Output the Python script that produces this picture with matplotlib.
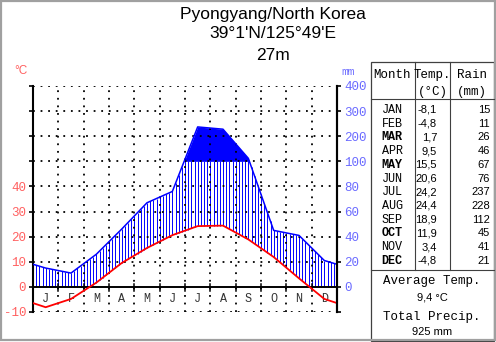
import numpy as np
import matplotlib
matplotlib.use("Agg")
import matplotlib.pyplot as plt
from matplotlib.patches import Rectangle

# Pyongyang climate normals
months = ['JAN', 'FEB', 'MAR', 'APR', 'MAY', 'JUN',
          'JUL', 'AUG', 'SEP', 'OCT', 'NOV', 'DEC']
month_letters = ['J', 'F', 'M', 'A', 'M', 'J', 'J', 'A', 'S', 'O', 'N', 'D']
temp = [-8.1, -4.8, 1.7, 9.5, 15.5, 20.6, 24.2, 24.4, 18.9, 11.9, 3.4, -4.8]
rain = [15, 11, 26, 46, 67, 76, 237, 228, 112, 45, 41, 21]
bold_rows = ['MAR', 'MAY', 'OCT', 'DEC']

title = 'Pyongyang/North Korea'
coords = "39°1'N/125°49'E"
elevation = '27m'

W, H = 496, 342
MONO = 'Liberation Mono'
SANS = 'Liberation Sans'
LRED = '#ff6060'
LBLUE = '#6a6aff'


def rain_scale(p):
    # 20 mm per 10 °C up to 100 mm, then 100 mm per 10 °C
    p = np.asarray(p, dtype=float)
    return np.where(p <= 100, p / 2.0, 50 + (p - 100) / 10.0)


fig = plt.figure(figsize=(W / 100, H / 100), dpi=100)
ax = fig.add_axes([33 / W, 1 - 312 / H, 304 / W, 226 / H])
ax.set_xlim(0, 12)
ax.set_ylim(-10, 80)

# month centres plus wrap-around values at both edges
xs = np.concatenate([[0], np.arange(12) + 0.5, [12]])
t_edge = (temp[0] + temp[-1]) / 2
r_edge = (rain[0] + rain[-1]) / 2
t_line = np.concatenate([[t_edge], temp, [t_edge]])
r_line = rain_scale(np.concatenate([[r_edge], rain, [r_edge]]))

# humid period: vertical hatching, solid above 100 mm
hx = np.arange(0, 12.001, 1 / 8)
h_top = np.minimum(np.interp(hx, xs, r_line), 50)
h_bot = np.maximum(np.interp(hx, xs, t_line), 0)
mask = h_top > h_bot
ax.vlines(hx[mask], h_bot[mask], h_top[mask], color='#0000ff', lw=0.7, zorder=2)

fx = np.linspace(0, 12, 1201)
fr = np.interp(fx, xs, r_line)
ax.fill_between(fx, 50, fr, where=fr > 50, color='#0000ff', lw=0, zorder=2)

ax.plot(xs, r_line, color='#0000ff', lw=1.1, zorder=4)
ax.plot(xs, t_line, color='#ff0000', lw=1.3, zorder=5)

# dotted grid
for yv in range(-10, 81, 10):
    if yv != 0:
        ax.axhline(yv, color='black', lw=1.3, ls=(0, (1, 3.2)), zorder=3)
for xv in range(1, 12):
    ax.axvline(xv, color='black', lw=1.3, ls=(0, (1, 3.2)), zorder=3)
    ax.plot([xv, xv], [-1.8, 1.0], color='black', lw=1.1, zorder=3)
ax.axhline(0, color='black', lw=1.4, zorder=4)

for i, m in enumerate(month_letters):
    ax.text(i + 0.5, -4.8, m, ha='center', va='center', fontsize=8.5,
            family=MONO, color='#333333')

for side in ['top', 'bottom']:
    ax.spines[side].set_visible(False)
for side in ['left', 'right']:
    ax.spines[side].set_linewidth(1.5)
ax.set_xticks([])

yt = list(range(-10, 81, 10))
ax.set_yticks(yt)
ax.set_yticklabels([str(v) if v <= 40 else '' for v in yt],
                   family=MONO, fontsize=9, color=LRED)
ax.tick_params(axis='y', length=3, width=1.2, pad=2)

ax2 = ax.twinx()
ax2.set_ylim(-10, 80)
ax2.set_yticks(yt)
ax2.set_yticklabels(['', '0', '20', '40', '60', '80', '100', '200', '300', '400'],
                    family=MONO, fontsize=9, color=LBLUE)
ax2.tick_params(axis='y', length=3, width=1.2, pad=2)
for side in ['top', 'bottom', 'left']:
    ax2.spines[side].set_visible(False)
ax2.spines['right'].set_linewidth(1.5)

# overlay in pixel coordinates for titles and the table
ov = fig.add_axes([0, 0, 1, 1], zorder=-1)
ov.set_xlim(0, W)
ov.set_ylim(H, 0)
ov.axis('off')

ov.text(273, 14, title, ha='center', va='center', fontsize=12.5, family=SANS)
ov.text(273, 34, coords, ha='center', va='center', fontsize=12.5, family=SANS)
ov.text(273, 55, elevation, ha='center', va='center', fontsize=12.5, family=SANS)
ov.text(21, 71, '°C', ha='center', va='center', fontsize=8.5, family=SANS, color=LRED)
ov.text(348, 72, 'mm', ha='center', va='center', fontsize=8, family=MONO, color=LBLUE)

# climate table
ov.add_patch(Rectangle((370.5, 61.5), 123, 279, fill=False, ec='#404040', lw=0.9))
ov.plot([415, 415], [61.5, 270], color='#404040', lw=0.8)
ov.plot([449.5, 449.5], [61.5, 270], color='#404040', lw=0.8)
ov.plot([370.5, 493.5], [98.5, 98.5], color='#404040', lw=0.8)
ov.plot([370.5, 493.5], [270, 270], color='#404040', lw=0.8)

hfs = 9
ov.text(392.5, 75, 'Month', ha='center', va='center', fontsize=hfs, family=MONO)
ov.text(432.5, 75, 'Temp.', ha='center', va='center', fontsize=hfs, family=MONO)
ov.text(432.5, 92, '(°C)', ha='center', va='center', fontsize=hfs, family=MONO)
ov.text(471.5, 75, 'Rain', ha='center', va='center', fontsize=hfs, family=MONO)
ov.text(471.5, 92, '(mm)', ha='center', va='center', fontsize=hfs, family=MONO)

for i, m in enumerate(months):
    y = 110 + i * 13.7
    ov.text(392, y, m, ha='center', va='center', fontsize=8.5, family=MONO,
            weight='bold' if m in bold_rows else 'normal')
    ov.text(437, y, f'{temp[i]:.1f}'.replace('.', ','), ha='right', va='center',
            fontsize=8, family=SANS)
    ov.text(490, y, str(rain[i]), ha='right', va='center', fontsize=8, family=SANS)

avg_t = np.mean(temp)
total_r = sum(rain)
ov.text(432, 281, 'Average Temp.', ha='center', va='center', fontsize=hfs, family=MONO)
ov.text(432, 298, f'{avg_t:.1f}'.replace('.', ',') + ' °C', ha='center', va='center',
        fontsize=8, family=SANS)
ov.text(432, 317, 'Total Precip.', ha='center', va='center', fontsize=hfs, family=MONO)
ov.text(432, 332, f'{total_r} mm', ha='center', va='center', fontsize=8, family=SANS)

# outer frame
ov.add_patch(Rectangle((1, 0.5), W - 2.5, H - 2.5, fill=False, ec='#a0a0a0', lw=1.6))

fig.savefig('out.png', dpi=100)
